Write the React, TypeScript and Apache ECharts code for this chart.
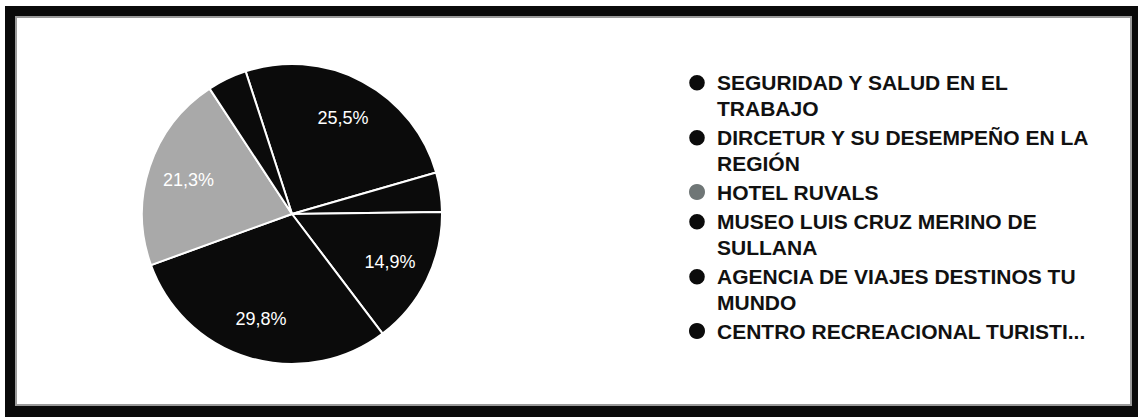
import React, { useEffect, useRef } from 'react';
import * as echarts from 'echarts';

// Categories in legend order
const categories = [
  'SEGURIDAD Y SALUD EN EL TRABAJO',
  'DIRCETUR Y SU DESEMPEÑO EN LA REGIÓN',
  'HOTEL RUVALS',
  'MUSEO LUIS CRUZ MERINO DE SULLANA',
  'AGENCIA DE VIAJES DESTINOS TU MUNDO',
  'CENTRO RECREACIONAL TURISTI...',
];
// Wrapped legend texts (same order)
const legendLabels = [
  'SEGURIDAD Y SALUD EN EL\nTRABAJO',
  'DIRCETUR Y SU DESEMPEÑO EN LA\nREGIÓN',
  'HOTEL RUVALS',
  'MUSEO LUIS CRUZ MERINO DE\nSULLANA',
  'AGENCIA DE VIAJES DESTINOS TU\nMUNDO',
  'CENTRO RECREACIONAL TURISTI...',
];
// Responses per category (same order) -> 25.5%, 4.3%, 21.3%, 14.9%, 29.8%, 4.3%
const counts = [12, 2, 10, 7, 14, 2];
// Slice order clockwise from the top
const sliceOrder = [0, 1, 3, 4, 2, 5];
const sliceColors = ['#0b0b0b', '#0b0b0b', '#a9a9a9', '#0b0b0b', '#0b0b0b', '#0b0b0b'];
const legendColors = ['#0b0b0b', '#0b0b0b', '#6f7676', '#0b0b0b', '#0b0b0b', '#0b0b0b'];

// circle on the first text line (two-line items), plain circle otherwise
const ICON_TWO_LINES = 'path://M0,9A9,9,0,1,1,18,9A9,9,0,1,1,0,9ZM9,43L9,43.01';

export default function App() {
  const ref = useRef<HTMLDivElement>(null);
  useEffect(() => {
    document.body.style.margin = '0';
    if (!ref.current) return;
    const chart = echarts.init(ref.current, null, { renderer: 'svg' });
    const pieData = sliceOrder.map((i) => ({
      name: categories[i],
      value: counts[i],
      itemStyle: { color: sliceColors[i] },
    }));
    const fmt = (p: any) =>
      p.percent < 5 ? '' : p.percent.toFixed(1).replace('.', ',') + '%';
    chart.setOption({
      animation: false,
      backgroundColor: '#ffffff',
      graphic: [
        {
          type: 'rect',
          z: -10,
          silent: true,
          shape: { x: 5, y: 6, width: 1140, height: 420 },
          style: { fill: '#0a0a0a' },
        },
        {
          type: 'rect',
          z: -9,
          silent: true,
          shape: { x: 16, y: 17, width: 1115, height: 388 },
          style: { fill: '#ffffff', stroke: '#9a9a9a', lineWidth: 2 },
        },
      ],
      legend: {
        orient: 'vertical',
        left: 687,
        top: 69,
        padding: 0,
        itemGap: 3,
        itemWidth: 18,
        itemHeight: 42,
        selectedMode: false,
        data: categories.map((n, i) => ({
          name: n,
          icon: legendLabels[i].includes('\n') ? ICON_TWO_LINES : 'circle',
          itemStyle: { color: legendColors[i] },
        })),
        formatter: (name: string) => legendLabels[categories.indexOf(name)],
        textStyle: {
          fontFamily: '"Liberation Sans", Arial, sans-serif',
          fontSize: 21,
          fontWeight: 'bold',
          color: '#111111',
          lineHeight: 26,
          padding: [0, 0, 0, 6],
        },
      },
      series: [
        {
          type: 'pie',
          center: [292, 214],
          radius: [0, 150],
          startAngle: 108,
          clockwise: true,
          data: pieData,
          label: { show: false },
          labelLine: { show: false },
          itemStyle: { borderColor: '#ffffff', borderWidth: 2 },
          emphasis: { disabled: true },
          silent: true,
        },
        {
          type: 'pie',
          center: [292, 214],
          radius: [62, 150],
          startAngle: 108,
          clockwise: true,
          percentPrecision: 1,
          data: pieData.map((d) => ({ name: d.name, value: d.value })),
          itemStyle: { color: 'rgba(0,0,0,0)', borderWidth: 0 },
          label: {
            show: true,
            position: 'inside',
            formatter: fmt,
            color: '#ffffff',
            fontFamily: '"Liberation Sans", Arial, sans-serif',
            fontSize: 18,
          },
          labelLine: { show: false },
          emphasis: { disabled: true },
          silent: true,
        },
      ],
    });
    return () => chart.dispose();
  }, []);
  return <div ref={ref} style={{ width: 1138, height: 417 }} />;
}
